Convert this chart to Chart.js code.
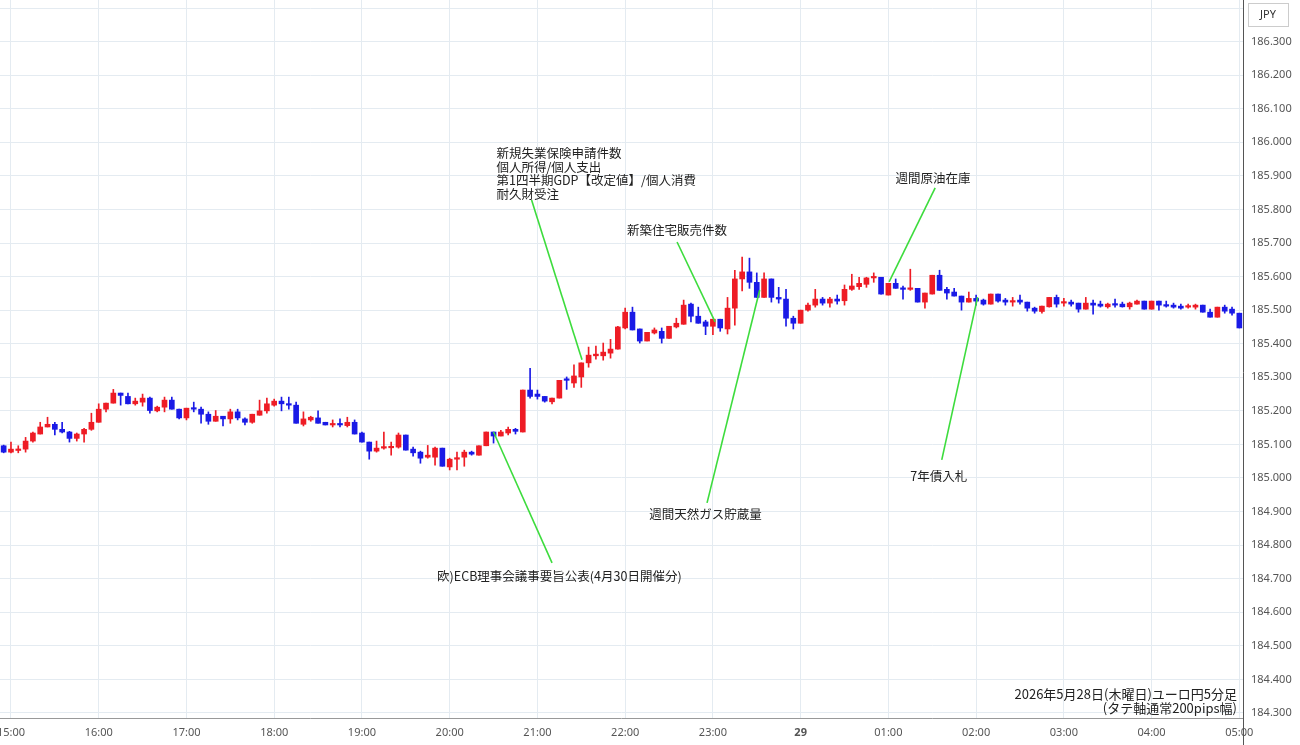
<!DOCTYPE html>
<html><head><meta charset="utf-8">
<script src="https://cdn.jsdelivr.net/npm/chart.js@4"></script>
<style>html,body{margin:0;padding:0;background:#fff}#wrap{width:1300px;height:745px;position:relative}</style>
</head><body><div id="wrap"><canvas id="c"></canvas></div>
<script>
const open = [185.096,185.077,185.082,185.086,185.110,185.131,185.152,185.160,185.145,185.137,
185.118,185.131,185.145,185.166,185.205,185.223,185.253,185.243,185.221,185.226,
185.238,185.200,185.211,185.232,185.205,185.179,185.208,185.205,185.190,185.169,
185.184,185.176,185.197,185.176,185.166,185.187,185.200,185.217,185.229,185.221,
185.217,185.160,185.173,185.179,185.166,185.158,185.160,185.156,185.166,185.134,
185.107,185.080,185.089,185.090,185.092,185.128,185.086,185.077,185.062,185.062,
185.089,185.033,185.056,185.062,185.077,185.068,185.096,185.137,185.125,185.134,
185.145,185.137,185.262,185.250,185.243,185.227,185.238,185.294,185.283,185.301,
185.343,185.364,185.364,185.372,185.384,185.447,185.494,185.444,185.408,185.432,
185.437,185.416,185.450,185.458,185.518,185.482,185.465,185.452,185.473,185.444,
185.506,185.593,185.614,185.583,185.538,185.593,185.538,185.533,185.476,185.461,
185.500,185.515,185.533,185.521,185.533,185.528,185.562,185.570,185.577,185.596,
185.598,185.545,185.580,185.565,185.562,185.565,185.524,185.548,185.604,185.562,
185.554,185.542,185.524,185.535,185.530,185.518,185.548,185.530,185.524,185.530,
185.524,185.506,185.496,185.510,185.538,185.521,185.524,185.521,185.503,185.521,
185.518,185.510,185.518,185.518,185.510,185.518,185.527,185.503,185.527,185.515,
185.515,185.512,185.509,185.509,185.515,185.494,185.479,185.509,185.503,185.491];
const close = [185.077,185.086,185.083,185.110,185.134,185.152,185.160,185.145,185.137,185.118,
185.131,185.145,185.166,185.205,185.223,185.253,185.246,185.221,185.229,185.238,
185.201,185.211,185.232,185.205,185.179,185.208,185.205,185.190,185.169,185.184,
185.176,185.197,185.179,185.166,185.190,185.200,185.221,185.229,185.221,185.217,
185.163,185.176,185.181,185.163,185.158,185.160,185.158,185.166,185.131,185.107,
185.080,185.089,185.092,185.092,185.128,185.083,185.075,185.059,185.068,185.089,
185.035,185.056,185.059,185.077,185.071,185.096,185.137,185.125,185.137,185.145,
185.139,185.262,185.243,185.243,185.229,185.238,185.291,185.291,185.304,185.343,
185.366,185.369,185.375,185.384,185.450,185.494,185.441,185.408,185.434,185.441,
185.416,185.452,185.461,185.515,185.482,185.461,185.452,185.473,185.447,185.506,
185.593,185.614,185.583,185.538,185.593,185.538,185.533,185.476,185.461,185.500,
185.515,185.533,185.521,185.533,185.527,185.562,185.572,185.580,185.596,185.598,
185.548,185.580,185.565,185.562,185.565,185.524,185.551,185.604,185.559,185.551,
185.542,185.524,185.535,185.527,185.518,185.548,185.527,185.524,185.527,185.524,
185.506,185.497,185.512,185.538,185.518,185.524,185.518,185.503,185.521,185.515,
185.512,185.518,185.515,185.510,185.521,185.527,185.503,185.527,185.515,185.512,
185.509,185.506,185.512,185.515,185.494,185.479,185.509,185.497,185.491,185.447];
const high = [185.098,185.107,185.096,185.121,185.137,185.166,185.181,185.166,185.166,185.139,
185.134,185.148,185.193,185.221,185.223,185.264,185.253,185.253,185.238,185.250,
185.241,185.214,185.241,185.241,185.205,185.208,185.226,185.211,185.197,185.201,
185.184,185.205,185.205,185.179,185.190,185.232,185.238,185.235,185.241,185.241,
185.226,185.197,185.184,185.200,185.166,185.173,185.176,185.181,185.173,185.137,
185.107,185.110,185.137,185.107,185.134,185.128,185.092,185.080,185.097,185.092,
185.089,185.059,185.077,185.083,185.080,185.096,185.137,185.137,185.142,185.152,
185.148,185.262,185.327,185.262,185.243,185.238,185.291,185.301,185.337,185.343,
185.390,185.393,185.402,185.413,185.452,185.506,185.509,185.444,185.434,185.447,
185.447,185.452,185.476,185.530,185.521,185.509,185.470,185.473,185.473,185.538,
185.619,185.658,185.655,185.611,185.611,185.593,185.568,185.562,185.482,185.500,
185.521,185.562,185.538,185.538,185.545,185.575,185.607,185.598,185.598,185.611,
185.598,185.580,185.593,185.572,185.622,185.565,185.551,185.604,185.619,185.568,
185.565,185.542,185.554,185.545,185.533,185.548,185.548,185.535,185.538,185.545,
185.524,185.509,185.512,185.538,185.545,185.535,185.530,185.521,185.538,185.530,
185.527,185.521,185.533,185.524,185.524,185.530,185.527,185.527,185.527,185.527,
185.521,185.518,185.518,185.518,185.515,185.503,185.509,185.515,185.509,185.491];
const low = [185.075,185.075,185.075,185.077,185.107,185.131,185.152,185.128,185.134,185.107,
185.110,185.107,185.142,185.166,185.197,185.223,185.217,185.221,185.217,185.214,
185.193,185.197,185.197,185.205,185.176,185.173,185.197,185.163,185.160,185.169,
185.155,185.163,185.173,185.158,185.163,185.187,185.193,185.214,185.200,185.205,
185.163,185.155,185.169,185.163,185.158,185.152,185.152,185.152,185.131,185.107,
185.056,185.077,185.086,185.068,185.089,185.083,185.065,185.044,185.059,185.038,
185.035,185.024,185.024,185.035,185.068,185.068,185.096,185.104,185.125,185.128,
185.131,185.137,185.238,185.235,185.226,185.221,185.238,185.264,185.270,185.270,
185.330,185.354,185.351,185.357,185.384,185.444,185.441,185.402,185.408,185.429,
185.402,185.416,185.447,185.458,185.465,185.461,185.427,185.427,185.437,185.429,
185.455,185.557,185.565,185.538,185.538,185.524,185.521,185.452,185.444,185.461,
185.497,185.509,185.515,185.509,185.518,185.515,185.559,185.562,185.568,185.583,
185.548,185.545,185.565,185.533,185.559,185.524,185.506,185.548,185.559,185.533,
185.542,185.500,185.524,185.515,185.515,185.518,185.524,185.515,185.512,185.518,
185.497,185.491,185.491,185.509,185.509,185.512,185.512,185.494,185.503,185.488,
185.509,185.506,185.509,185.509,185.503,185.518,185.503,185.503,185.500,185.509,
185.506,185.503,185.506,185.503,185.494,185.479,185.479,185.491,185.485,185.447];

const tickIndex = [1,13,25,37,49,61,73,85,97,109,121,133,145,157,169];
const tickText = ['15:00','16:00','17:00','18:00','19:00','20:00','21:00','22:00','23:00','29','01:00','02:00','03:00','04:00','05:00'];
const categories = open.map((_,i)=>{const m=(14*60+55+5*i)%1440;return String(Math.floor(m/60)).padStart(2,'0')+':'+String(m%60).padStart(2,'0');});

const annoLines = [
 ['新規失業保険申請件数','個人所得/個人支出','第1四半期GDP【改定値】/個人消費','耐久財受注'],
 ['新築住宅販売件数'],['週間原油在庫'],['7年債入札'],['週間天然ガス貯蔵量'],['欧)ECB理事会議事要旨公表(4月30日開催分)']];
const annoTextIdx = [67.4, 92.1, 127.1, 127.9, 96.0, 76.0];
const annoTextPrice = [185.968, 185.739, 185.894, 185.006, 184.893, 184.708];
const annoAlign = ['left','center','center','center','center','center'];
const annoFromIdx = [72.2, 92.1, 127.4, 128.3, 96.2, 75.0];
const annoFromPrice = [185.828, 185.703, 185.864, 185.054, 184.926, 184.747];
const annoToIdx = [79.1, 97.3, 121.1, 133.2, 103.4, 67.0];
const annoToPrice = [185.352, 185.465, 185.584, 185.539, 185.560, 185.137];

const RED='#ee1c25', BLUE='#1a1ae6';
const colors = open.map((o,i)=> close[i]>=o ? RED : BLUE);
const JP = '"Noto Sans CJK JP", "Noto Sans", sans-serif';
const GRID = '#e4ebf1';

const overlay = {
  id:'overlay',
  afterDatasetsDraw(chart){
    const {ctx, scales:{x,y}} = chart;
    ctx.save();
    ctx.strokeStyle='#3ddc3d'; ctx.lineWidth=1.6;
    for(let k=0;k<annoLines.length;k++){
      ctx.beginPath();
      ctx.moveTo(x.getPixelForValue(annoFromIdx[k]), y.getPixelForValue(annoFromPrice[k]));
      ctx.lineTo(x.getPixelForValue(annoToIdx[k]), y.getPixelForValue(annoToPrice[k]));
      ctx.stroke();
    }
    ctx.fillStyle='#222'; ctx.font='12.5px '+JP; ctx.textBaseline='middle';
    for(let k=0;k<annoLines.length;k++){
      ctx.textAlign=annoAlign[k];
      const tx=x.getPixelForValue(annoTextIdx[k]), ty=y.getPixelForValue(annoTextPrice[k]);
      annoLines[k].forEach((s,j)=>ctx.fillText(s,tx,ty+j*13.7));
    }
    ctx.font='13px '+JP; ctx.textAlign='right';
    ctx.fillText('2026年5月28日(木曜日)ユーロ円5分足',1237,694);
    ctx.fillText('(タテ軸通常200pips幅)',1237,708);
    ctx.restore();
  },
  afterDraw(chart){
    const {ctx, chartArea:a} = chart;
    ctx.save();
    ctx.strokeStyle='#555'; ctx.lineWidth=1;
    ctx.beginPath(); ctx.moveTo(a.right+0.5,0); ctx.lineTo(a.right+0.5,745); ctx.stroke();
    ctx.strokeStyle='#999';
    ctx.beginPath(); ctx.moveTo(0,a.bottom+0.5); ctx.lineTo(a.right,a.bottom+0.5); ctx.stroke();
    ctx.fillStyle='#fff'; ctx.fillRect(1248.5,3.5,40,23);
    ctx.strokeStyle='#ccc'; ctx.strokeRect(1248.5,3.5,40,23);
    ctx.fillStyle='#333'; ctx.font='11px "Noto Sans", sans-serif'; ctx.textAlign='center'; ctx.textBaseline='middle';
    ctx.fillText('JPY',1268,15);
    ctx.restore();
  }
};

new Chart(document.getElementById('c'), {
  type:'bar',
  data:{ labels: categories, datasets:[
    {data: low.map((l,i)=>[l,high[i]]), backgroundColor: colors, barThickness:1, grouped:false, order:2},
    {data: open.map((o,i)=>[o,close[i]]), backgroundColor: colors, barThickness:5, minBarLength:1.5, grouped:false, order:1}
  ]},
  options:{
    responsive:true, maintainAspectRatio:false, animation:false,
    layout:{padding:0},
    plugins:{legend:{display:false}, tooltip:{enabled:false}},
    scales:{
      x:{ offset:true,
        grid:{offset:false, drawTicks:false, color: c => tickIndex.includes(c.index) ? GRID : 'rgba(0,0,0,0)'},
        border:{display:false},
        ticks:{autoSkip:false, maxRotation:0, minRotation:0, padding:8, color:'#555',
          callback:(v,i)=>{const k=tickIndex.indexOf(i); return k>=0?tickText[k]:'';},
          font: c => ({family:'"Noto Sans", sans-serif', size:11, weight: c.index===109?'bold':'normal'})},
        afterFit: s => { s.height = 27; s.paddingLeft = 0; s.paddingRight = 0; }
      },
      y:{ position:'right', min:184.285, max:186.424,
        grid:{color:GRID, drawTicks:false}, border:{display:false},
        ticks:{stepSize:0.1, includeBounds:false, padding:8, color:'#555', font:{family:'"Noto Sans", sans-serif', size:11},
          callback: v => Number(v) > 186.35 ? '' : Number(v).toFixed(3)},
        afterFit: s => { s.width = 57; s.paddingTop = 0; s.paddingBottom = 0; }
      }
    }
  },
  plugins:[overlay]
});
</script></body></html>
